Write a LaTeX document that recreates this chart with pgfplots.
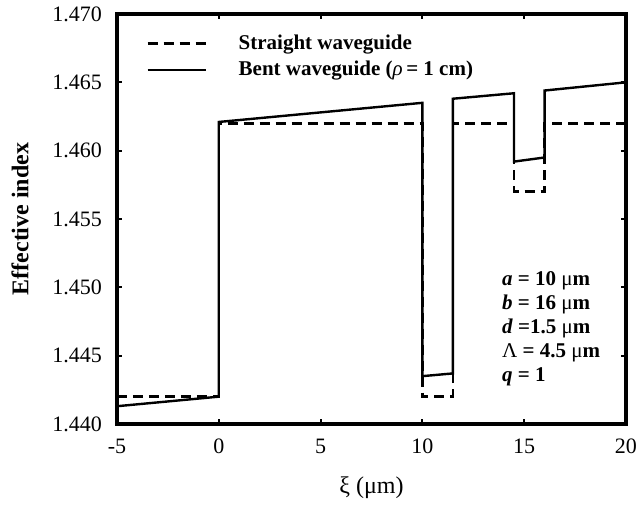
\documentclass[border=0pt]{standalone}
\usepackage{fontspec}
\setmainfont{Liberation Serif}
\usepackage{pgfplots}
\pgfplotsset{compat=1.18}

\pgfplotstableread{
x y
-5 1.442
0 1.442
0 1.462
10 1.462
10 1.442
11.5 1.442
11.5 1.462
14.5 1.462
14.5 1.457
16 1.457
16 1.462
20 1.462
}\straight

\pgfplotstableread{
x y
-5 1.4413
0 1.4420
0 1.4621
10 1.4635
10 1.4435
11.5 1.4437
11.5 1.4638
14.5 1.4642
14.5 1.4592
16 1.4595
16 1.4644
20 1.4650
}\bent

\begin{document}
\begin{tikzpicture}[font=\fontsize{11pt}{13pt}\selectfont]
\begin{axis}[
  scale only axis,
  width=254.5pt, height=205pt,
  xmin=-5, xmax=20, ymin=1.440, ymax=1.470,
  xtick={-5,0,5,10,15,20},
  xticklabels={-5,0,5,10,15,20},
  ytick={1.440,1.445,1.450,1.455,1.460,1.465,1.470},
  yticklabels={1.440,1.445,1.450,1.455,1.460,1.465,1.470},
  tick pos=both, tick align=inside,
  major tick length=2.5pt,
  tick style={line width=1pt, black},
  axis line style={line width=1.7pt},
  xticklabel style={yshift=-4pt},
  yticklabel style={xshift=-4pt},
  xlabel={ξ (μm)},
  ylabel={\textbf{Effective index}},
  label style={font=\fontsize{12pt}{14pt}\selectfont},
  xlabel style={yshift=-4.5pt},
  ylabel style={yshift=5pt},
  legend style={draw=none, fill=none, at={(0.045,0.97)}, anchor=north west,
    font=\fontsize{10.5pt}{12.6pt}\selectfont\bfseries, row sep=0.5pt,
    legend cell align=left},
  legend image code/.code={\draw[#1] (0pt,0pt) -- (29pt,0pt);},
]
\addplot[black, line width=1.2pt, dash pattern=on 5pt off 3pt] table {\straight};
\addlegendentry{\hspace{14pt}Straight waveguide}
\addplot[black, line width=1.2pt] table {\bent};
\addlegendentry{\hspace{14pt}Bent waveguide (\textit{\mdseries ρ}\,= 1 cm)}
\node[anchor=north west, align=left, inner sep=0pt,
  font=\fontsize{10.5pt}{12pt}\selectfont\bfseries]
  at (axis cs:13.9,1.4512) {%
  \textit{a} = 10 {\mdseries μ}m\\
  \textit{b} = 16 {\mdseries μ}m\\
  \textit{d} =1.5 {\mdseries μ}m\\
  {\mdseries Λ} = 4.5 {\mdseries μ}m\\
  \textit{q} = 1};
\end{axis}
\path (current axis.south west) ++(-58.5pt,-40.5pt) coordinate (bbA);
\path (current axis.north east) ++(6pt,7pt) coordinate (bbB);
\pgfresetboundingbox
\useasboundingbox (bbA) rectangle (bbB);
\end{tikzpicture}
\end{document}
